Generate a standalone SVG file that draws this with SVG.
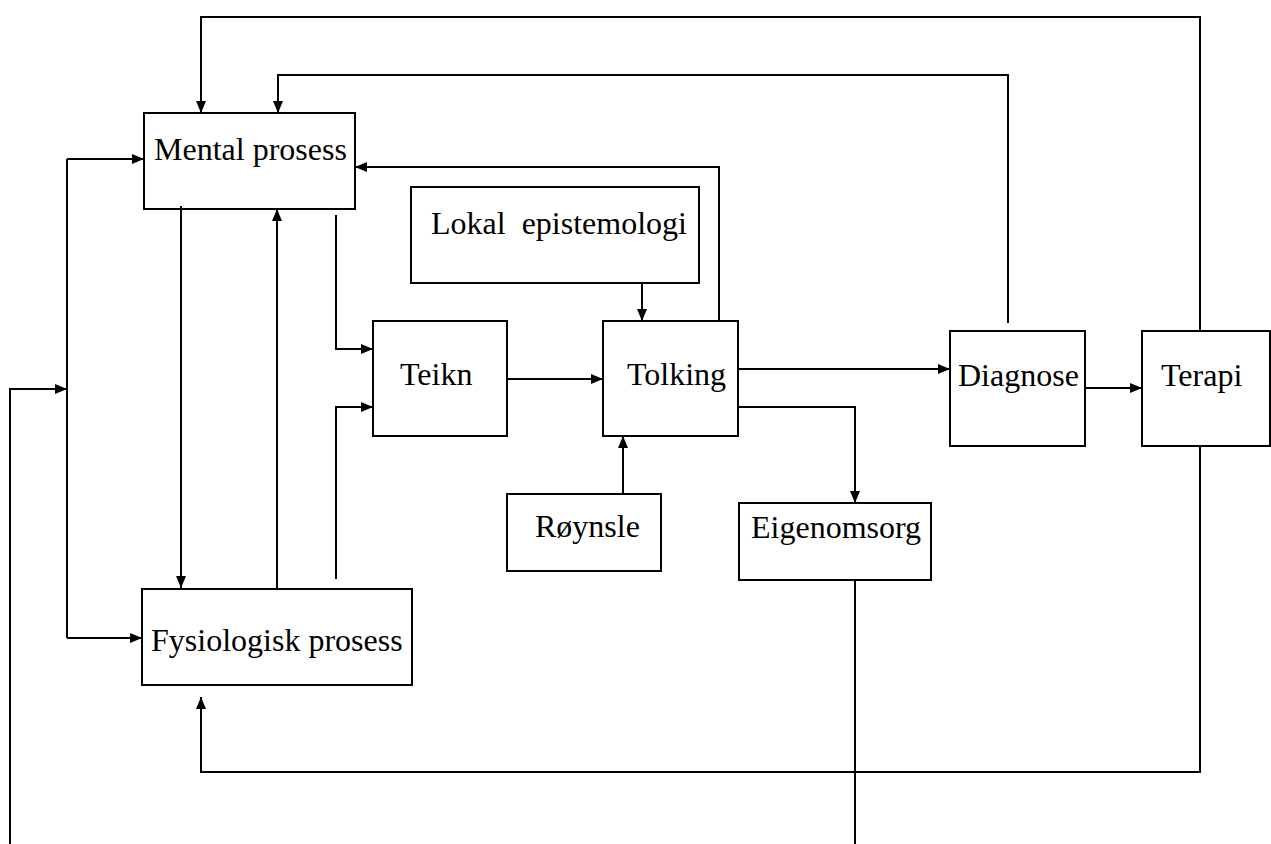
<svg xmlns="http://www.w3.org/2000/svg" width="1271" height="844" viewBox="0 0 1271 844">
<style>
.box{fill:#fff;stroke:#000;stroke-width:2}
.lbl{font-family:"Liberation Serif","Times New Roman",serif;font-size:32px;fill:#000}
.c{fill:none;stroke:#000;stroke-width:2}
</style>
<defs>
<marker id="ah" markerUnits="userSpaceOnUse" markerWidth="12" markerHeight="10" refX="12" refY="5" orient="auto">
<path d="M0,0 L12,5 L0,10 z" fill="#000"/>
</marker>
</defs>
<rect width="1271" height="844" fill="#fff"/>
<g id="nodes">
<g id="mental"><rect class="box" x="144" y="113" width="211" height="96"/><text class="lbl" x="154" y="160">Mental prosess</text></g>
<g id="fysiologisk"><rect class="box" x="142" y="589" width="270" height="96"/><text class="lbl" x="151" y="651">Fysiologisk prosess</text></g>
<g id="lokal"><rect class="box" x="411" y="187" width="288" height="96"/><text class="lbl" x="431" y="234" xml:space="preserve">Lokal  epistemologi</text></g>
<g id="teikn"><rect class="box" x="373" y="321" width="134" height="115"/><text class="lbl" x="400" y="385">Teikn</text></g>
<g id="tolking"><rect class="box" x="603" y="321" width="135" height="115"/><text class="lbl" x="627" y="385">Tolking</text></g>
<g id="roynsle"><rect class="box" x="507" y="494" width="154" height="77"/><text class="lbl" x="535" y="537">Røynsle</text></g>
<g id="eigenomsorg"><rect class="box" x="739" y="503" width="192" height="77"/><text class="lbl" x="751" y="538">Eigenomsorg</text></g>
<g id="diagnose"><rect class="box" x="950" y="331" width="135" height="115"/><text class="lbl" x="958" y="386">Diagnose</text></g>
<g id="terapi"><rect class="box" x="1142" y="331" width="128" height="115"/><text class="lbl" x="1161" y="386">Terapi</text></g>
</g>
<g id="connectors">
<path class="c" d="M1200,330 V17 H201 V113" marker-end="url(#ah)"/>
<path class="c" d="M1008,323 V75 H278 V113" marker-end="url(#ah)"/>
<path class="c" d="M719,321 V167 H355" marker-end="url(#ah)"/>
<path class="c" d="M181,206 V588" marker-end="url(#ah)"/>
<path class="c" d="M277,590 V209" marker-end="url(#ah)"/>
<path class="c" d="M336,215 V349 H373" marker-end="url(#ah)"/>
<path class="c" d="M336,579 V407 H373" marker-end="url(#ah)"/>
<path class="c" d="M10,844 V389 H67" marker-end="url(#ah)"/>
<path class="c" d="M67,638 V159"/>
<path class="c" d="M67,159 H144" marker-end="url(#ah)"/>
<path class="c" d="M67,638 H142" marker-end="url(#ah)"/>
<path class="c" d="M507,379 H603" marker-end="url(#ah)"/>
<path class="c" d="M642,283 V321" marker-end="url(#ah)"/>
<path class="c" d="M623,494 V436" marker-end="url(#ah)"/>
<path class="c" d="M738,369 H950" marker-end="url(#ah)"/>
<path class="c" d="M738,407 H855 V503" marker-end="url(#ah)"/>
<path class="c" d="M1085,388 H1142" marker-end="url(#ah)"/>
<path class="c" d="M1200,446 V772 H201 V697" marker-end="url(#ah)"/>
<path class="c" d="M855,580 V844"/>
</g>
</svg>
